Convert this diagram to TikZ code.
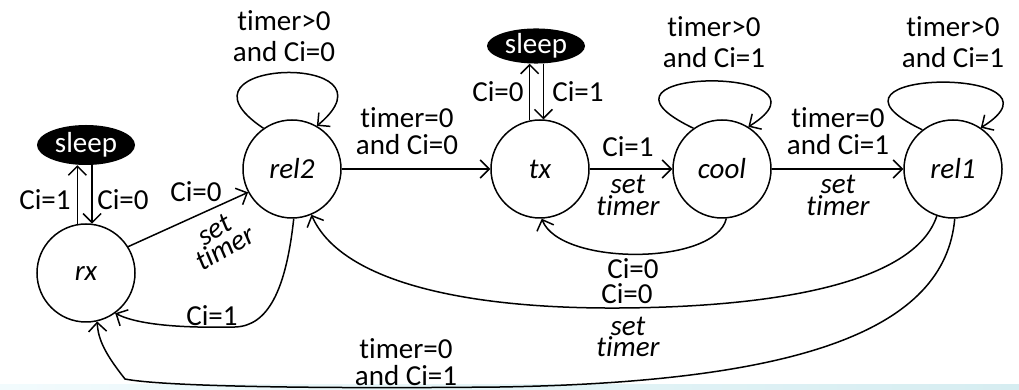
\documentclass[tikz,border=0pt]{standalone}
\usepackage{fontspec}
\setmainfont{Carlito}[Ligatures=NoCommon]
\usetikzlibrary{arrows.meta,shapes.geometric}
\begin{document}
\begin{tikzpicture}[x=1pt,y=1pt,
  state/.style={circle,draw,line width=1.5pt,minimum size=98pt,inner sep=0pt,font=\fontsize{29}{29}\selectfont\itshape},
  sleepnode/.style={ellipse,fill=black,text=white,minimum width=98pt,minimum height=40pt,inner sep=0pt,font=\fontsize{29}{29}\selectfont},
  lbl/.style={align=center,inner sep=0pt,font=\fontsize{29}{27}\selectfont},
  lpl/.style={align=center,inner sep=0pt,font=\fontsize{29}{31}\selectfont},
  ilbl/.style={align=center,inner sep=0pt,font=\fontsize{29}{18}\selectfont\itshape},
  arr/.style={line width=1.5pt,-{Straight Barb[length=9pt,width=18pt]}}
]
\useasboundingbox (0,0) rectangle (1019,390);
\shade[left color={rgb,255:red,242;green,251;blue,253},right color={rgb,255:red,214;green,237;blue,241}] (0,0) rectangle (1019,5);

% states
\node[state] (rx)   at (86,117)  {rx};
\node[state] (rel2) at (292,221) {rel2};
\node[state] (tx)   at (540,221) {tx};
\node[state] (cool) at (722,221) {cool};
\node[state] (rel1) at (953,221) {rel1};
\node[sleepnode] (sl1) at (86,245) {sleep};
\node[sleepnode,minimum height=35pt] (sl2) at (536,344) {sleep};

% sleep arrows
\draw[arr] (rx.100) -- (rx.100 |- sl1.south);
\draw[arr] (rx.83 |- sl1.south) -- (rx.83);
\node[lbl] (l1) at (45,190) {Ci=1};
\node[lbl] (l2) at (123,190) {Ci=0};
\draw[arr] (tx.102) -- (tx.102 |- sl2.south);
\draw[arr] (tx.86 |- sl2.south) -- (tx.86);
\node[lbl] (l3) at (498,298.5) {Ci=0};
\node[lbl] (l4) at (578,298.5) {Ci=1};

% rx -> rel2
\draw[arr] (rx.32) -- (rel2.208);
\node[lbl] (l5) at (196,198.5) {Ci=0};
\node[ilbl,rotate=30] (l6) at (220,151) {set\\timer};

% rel2 -> rx
\draw[arr] (rel2.-88) .. controls (286,100) and (268,64) .. (235,63)
  .. controls (190,62) and (140,64) .. (rx.-54);
\node[lbl] (l7) at (212,74) {Ci=1};

% self loops
\draw[arr] (rel2.125) .. controls +(-105,70) and +(90,75) .. (rel2.60);
\node[lpl] (l8) at (284,354) {timer>0\\and Ci=0};
\draw[arr] (cool.125) .. controls +(-130,62) and +(100,62) .. (cool.58);
\node[lpl] (l9) at (714,347.5) {timer>0\\and Ci=1};
\draw[arr] (rel1.128) .. controls +(-130,62) and +(100,62) .. (rel1.56);
\node[lpl] (l10) at (953,347.5) {timer>0\\and Ci=1};

% rel2 -> tx
\draw[arr] (rel2.east) -- (tx.west);
\node[lbl] (l11) at (407,258.5) {timer=0\\and Ci=0};

% tx -> cool
\draw[arr] (tx.east) -- (cool.west);
\node[lbl] (l12) at (628,243.5) {Ci=1};
\node[ilbl] (l13) at (628,194.5) {set\\timer};

% cool -> rel1
\draw[arr] (cool.east) -- (rel1.west);
\node[lbl] (l14) at (838,258.5) {timer=0\\and Ci=1};
\node[ilbl] (l15) at (838,194.5) {set\\timer};

% cool -> tx
\draw[arr] (cool.-85) .. controls (715,124) and (560,124) .. (tx.-88);
\node[lbl] (l16) at (633,121.5) {Ci=0};

% rel1 -> rel2
\draw[arr] (rel1.-109) .. controls (915,108) and (780,83) .. (620,82)
  .. controls (460,81) and (340,110) .. (rel2.-67);
\node[lbl] (l17) at (627,96) {Ci=0};
\node[ilbl] (l18) at (628,53) {set\\timer};

% rel1 -> rx
\draw[arr] (rel1.-88) .. controls (945,60) and (800,8) .. (500,3)
  .. controls (300,1) and (160,4) .. (125,11)
  .. controls (106,35) and (98,50) .. (rx.-77);
\node[lbl] (l19) at (406,27.5) {timer=0\\and Ci=1};
\end{tikzpicture}
\end{document}
